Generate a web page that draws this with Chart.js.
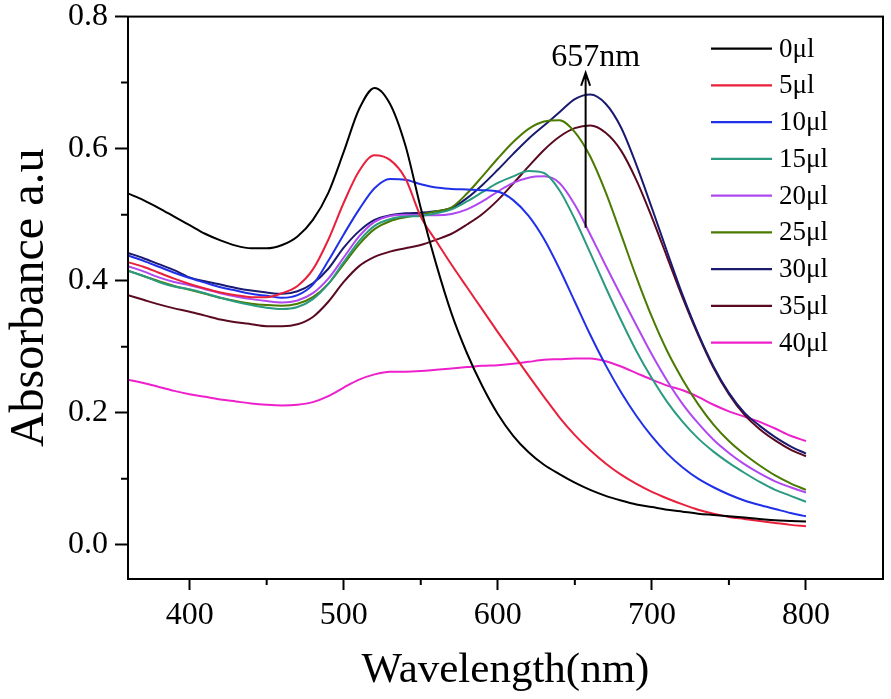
<!DOCTYPE html>
<html>
<head>
<meta charset="utf-8">
<script src="https://cdn.jsdelivr.net/npm/chart.js@4.4.1/dist/chart.umd.min.js"></script>
<style>
html,body{margin:0;padding:0;background:#fff;}
#wrap{width:891px;height:699px;position:relative;}
</style>
</head>
<body>
<div id="wrap"><canvas id="c"></canvas></div>
<script>
const wavelengths = [360,370,380,390,400,410,420,430,440,450,460,470,480,490,500,510,520,530,540,550,560,570,580,590,600,610,620,630,640,650,660,670,680,690,700,710,720,730,740,750,760,770,780,790,800];

const abs0  = [.532,.522,.510,.497,.484,.471,.461,.453,.449,.449,.454,.467,.492,.533,.595,.660,.692,.668,.605,.510,.425,.350,.290,.240,.198,.165,.140,.121,.107,.094,.083,.074,.067,.061,.057,.053,.050,.047,.045,.043,.041,.039,.037,.036,.035];
const abs5  = [.428,.421,.412,.403,.395,.388,.382,.378,.375,.375,.381,.392,.417,.462,.518,.566,.590,.583,.555,.497,.460,.424,.390,.356,.322,.289,.256,.224,.193,.166,.143,.123,.106,.092,.080,.070,.061,.053,.047,.042,.039,.036,.033,.030,.028];
const abs10 = [.438,.430,.421,.412,.404,.397,.390,.385,.380,.377,.374,.378,.394,.430,.470,.508,.540,.554,.553,.546,.541,.539,.538,.537,.535,.522,.498,.463,.418,.368,.318,.272,.231,.195,.164,.138,.117,.100,.087,.076,.067,.060,.054,.048,.043];
const abs15 = [.415,.407,.398,.391,.387,.381,.374,.368,.363,.359,.357,.360,.372,.395,.428,.460,.483,.493,.497,.498,.502,.508,.520,.534,.548,.558,.566,.563,.537,.493,.442,.390,.340,.293,.252,.216,.186,.161,.141,.124,.109,.095,.083,.074,.065];
const abs20 = [.422,.414,.405,.398,.393,.387,.381,.376,.372,.369,.367,.370,.381,.403,.435,.467,.489,.498,.500,.499,.499,.501,.508,.520,.535,.548,.556,.558,.548,.515,.470,.423,.377,.332,.288,.248,.213,.184,.159,.139,.122,.108,.096,.087,.079];
const abs25 = [.415,.407,.399,.392,.386,.380,.374,.369,.365,.363,.362,.365,.375,.395,.425,.455,.478,.490,.496,.500,.505,.511,.532,.558,.585,.610,.630,.641,.643,.625,.588,.534,.470,.405,.345,.293,.250,.213,.182,.157,.137,.120,.105,.093,.083];
const abs30 = [.442,.434,.425,.416,.405,.399,.394,.389,.385,.382,.380,.384,.396,.418,.450,.475,.492,.499,.502,.503,.505,.510,.525,.545,.568,.592,.615,.635,.655,.675,.682,.668,.632,.575,.510,.443,.378,.320,.270,.230,.200,.180,.163,.149,.138];
const abs35 = [.378,.371,.364,.358,.353,.347,.341,.337,.334,.331,.331,.334,.345,.368,.398,.422,.436,.444,.449,.454,.462,.471,.485,.501,.522,.547,.573,.598,.618,.631,.635,.624,.597,.552,.496,.435,.374,.318,.268,.228,.197,.175,.158,.144,.134];
const abs40 = [.250,.245,.239,.233,.228,.224,.220,.217,.214,.212,.211,.212,.216,.225,.238,.250,.258,.262,.262,.263,.265,.267,.269,.271,.272,.274,.277,.280,.281,.282,.282,.278,.270,.260,.250,.241,.234,.224,.212,.202,.194,.186,.176,.165,.157];

const seriesLabels = ['0\u03bcl','5\u03bcl','10\u03bcl','15\u03bcl','20\u03bcl','25\u03bcl','30\u03bcl','35\u03bcl','40\u03bcl'];
const seriesColors = ['#000000','#e8203c','#2030e8','#2a9a80','#b048f0','#4a7a00','#1a1a70','#5a0a20','#ee20cc'];
const seriesValues = [abs0,abs5,abs10,abs15,abs20,abs25,abs30,abs35,abs40];

const xMajorTicks = [400,500,600,700,800];
const xMinorTicks = [450,550,650,750];
const yMajorTicks = [0.0,0.2,0.4,0.6,0.8];
const yMinorTicks = [0.1,0.3,0.5,0.7];

const xTitle = 'Wavelength(nm)';
const yTitle = 'Absorbance a.u';
const peakLabel = '657nm';
const peakWavelength = 657;
const arrowFrom = 0.480;
const arrowTo = 0.715;

const SERIF = "'Liberation Serif','Times New Roman',serif";

const datasets = seriesValues.map((vals, i) => ({
  label: seriesLabels[i],
  data: wavelengths.map((w, j) => ({x: w, y: vals[j]})),
  borderColor: seriesColors[i],
  backgroundColor: seriesColors[i],
  borderWidth: 2,
  pointRadius: 0,
  cubicInterpolationMode: 'monotone',
  fill: false
}));

const decor = {
  id: 'decor',
  afterDraw(chart) {
    const ctx = chart.ctx;
    const a = chart.chartArea;
    const xs = chart.scales.x, ys = chart.scales.y;
    ctx.save();
    ctx.strokeStyle = '#000';
    ctx.lineWidth = 2;
    ctx.strokeRect(a.left, a.top, a.right - a.left, a.bottom - a.top);
    ctx.beginPath();
    xMinorTicks.forEach(v => {
      const px = xs.getPixelForValue(v);
      ctx.moveTo(px, a.bottom);
      ctx.lineTo(px, a.bottom + 6);
    });
    yMinorTicks.forEach(v => {
      const py = ys.getPixelForValue(v);
      ctx.moveTo(a.left, py);
      ctx.lineTo(a.left - 7, py);
    });
    ctx.stroke();
    const ax = xs.getPixelForValue(peakWavelength);
    const y0 = ys.getPixelForValue(arrowFrom);
    const y1 = ys.getPixelForValue(arrowTo);
    ctx.lineWidth = 2;
    ctx.beginPath();
    ctx.moveTo(ax, y0);
    ctx.lineTo(ax, y1);
    ctx.moveTo(ax - 4.5, y1 + 13);
    ctx.lineTo(ax, y1);
    ctx.lineTo(ax + 4.5, y1 + 13);
    ctx.stroke();
    ctx.fillStyle = '#000';
    ctx.font = "32px " + SERIF;
    ctx.textAlign = 'center';
    ctx.textBaseline = 'alphabetic';
    ctx.fillText(peakLabel, ax + 10, y1 - 7);
    ctx.font = "27px " + SERIF;
    ctx.textAlign = 'left';
    ctx.textBaseline = 'middle';
    chart.data.datasets.forEach((ds, i) => {
      const yy = a.top + 32 + i * 36.75;
      ctx.strokeStyle = ds.borderColor;
      ctx.lineWidth = 2.2;
      ctx.beginPath();
      ctx.moveTo(a.right - 172, yy);
      ctx.lineTo(a.right - 111, yy);
      ctx.stroke();
      ctx.fillStyle = '#000';
      ctx.fillText(ds.label, a.right - 104, yy + 1);
    });
    ctx.restore();
  }
};

new Chart(document.getElementById('c'), {
  type: 'line',
  data: { datasets },
  plugins: [decor],
  options: {
    responsive: true,
    maintainAspectRatio: false,
    animation: false,
    layout: { padding: { top: 0, right: 8, left: 0, bottom: 0 } },
    plugins: { legend: { display: false }, tooltip: { enabled: false } },
    scales: {
      x: {
        type: 'linear',
        min: 360, max: 850,
        afterBuildTicks: s => { s.ticks = xMajorTicks.map(v => ({value: v})); },
        afterFit: s => { s.height = 120; },
        grid: { drawOnChartArea: false, drawTicks: true, tickLength: 11, tickColor: '#000', tickWidth: 2 },
        border: { display: true, color: '#000', width: 2 },
        ticks: { color: '#000', font: { family: SERIF, size: 32 }, padding: 6, maxRotation: 0, autoSkip: false },
        title: { display: true, text: xTitle, color: '#000', font: { family: SERIF, size: 43 }, padding: { top: 0, bottom: 2 } }
      },
      y: {
        type: 'linear',
        min: -0.052, max: 0.8,
        afterBuildTicks: s => { s.ticks = yMajorTicks.map(v => ({value: v})); },
        afterFit: s => { s.width = 128; },
        grid: { drawOnChartArea: false, drawTicks: true, tickLength: 13, tickColor: '#000', tickWidth: 2 },
        border: { display: true, color: '#000', width: 2 },
        ticks: { color: '#000', font: { family: SERIF, size: 32, lineHeight: 0.6 }, padding: 7, autoSkip: false, callback: v => Number(v).toFixed(1) },
        title: { display: true, text: yTitle, color: '#000', font: { family: SERIF, size: 48 }, padding: { top: 2, bottom: 0 } }
      }
    }
  }
});
</script>
</body>
</html>
